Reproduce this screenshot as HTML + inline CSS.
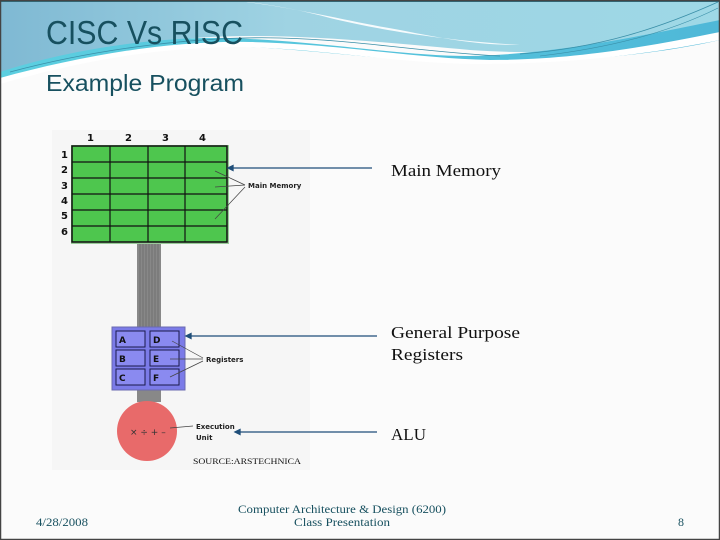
<!DOCTYPE html>
<html><head><meta charset="utf-8"><style>
html,body{margin:0;padding:0;background:#fff}
svg{display:block}
</style></head><body>
<svg width="720" height="540" viewBox="0 0 720 540" xmlns="http://www.w3.org/2000/svg">
<defs>
<linearGradient id="hg" x1="0" y1="0" x2="1" y2="0">
<stop offset="0" stop-color="#7fb9d3"/><stop offset="0.4" stop-color="#9fd3e3"/><stop offset="1" stop-color="#9ed8e6"/>
</linearGradient>
<linearGradient id="lg" x1="0" y1="0" x2="1" y2="0">
<stop offset="0" stop-color="#5ccfe0"/><stop offset="1" stop-color="#4fb8d8"/>
</linearGradient>
</defs>
<rect width="720" height="540" fill="#fbfbfb"/>
<path d="M0,0 H720 V30 C640,50 560,56 470,50 C380,42 250,28 160,42 C90,52 30,66 0,80 Z" fill="url(#hg)"/>
<path d="M0,72 C60,52 150,36 230,38 C330,42 400,56 470,56 C560,54 650,34 720,20 V40 C650,56 570,62 480,62 C380,62 300,47 220,46 C140,46 60,62 0,82 Z" fill="url(#lg)"/>
<path d="M230,0 C300,8 340,20 400,30 C450,40 480,45 520,45 C440,40 380,30 330,18 C300,10 270,4 230,0Z" fill="#fff" opacity="0.9"/>
<path d="M0,78 C80,56 170,40 250,42 C340,44 410,58 490,60 C580,60 660,44 720,32 V40 C650,54 570,64 480,64 C400,64 320,48 240,47 C150,47 70,64 0,84Z" fill="#fff"/>
<path d="M10,72 C100,48 200,36 280,38 C360,40 420,52 500,56" stroke="#3a8fa8" stroke-width="0.8" fill="none"/>
<path d="M520,54 C600,48 660,28 718,2" stroke="#3a8fa8" stroke-width="0.8" fill="none"/>
<path d="M540,56 C610,48 670,32 718,8" stroke="#3a8fa8" stroke-width="0.6" fill="none"/>
<line x1="0" y1="1" x2="720" y2="1" stroke="#2f6f80" stroke-width="2"/>
<text x="46" y="44" font-family="Liberation Sans, sans-serif" font-size="33" fill="#17505f" textLength="197" lengthAdjust="spacingAndGlyphs">CISC Vs RISC</text>
<text x="46" y="91" font-family="Liberation Sans, sans-serif" font-size="23" fill="#17505f" textLength="198" lengthAdjust="spacingAndGlyphs">Example Program</text>
<rect x="52" y="130" width="258" height="340" fill="#f6f6f6"/>
<g font-family="DejaVu Sans, sans-serif" font-weight="bold" font-size="10" fill="#111">
<text x="87" y="141">1</text><text x="125" y="141">2</text><text x="162" y="141">3</text><text x="199" y="141">4</text>
<text x="61" y="158">1</text><text x="61" y="173">2</text><text x="61" y="189">3</text><text x="61" y="204">4</text><text x="61" y="219">5</text><text x="61" y="235">6</text>
</g>
<rect x="137" y="243" width="24" height="85" fill="#888"/>
<g stroke="#666" stroke-width="0.7">
<line x1="140" y1="243" x2="140" y2="328"/><line x1="143" y1="243" x2="143" y2="328"/><line x1="146" y1="243" x2="146" y2="328"/><line x1="149" y1="243" x2="149" y2="328"/><line x1="152" y1="243" x2="152" y2="328"/><line x1="155" y1="243" x2="155" y2="328"/><line x1="158" y1="243" x2="158" y2="328"/>
</g>
<rect x="137" y="388" width="24" height="14" fill="#888"/>
<rect x="71" y="145" width="158" height="99" fill="#9c9" />
<rect x="72" y="146" width="155" height="96" fill="#4ec64e" stroke="#111" stroke-width="1.5"/>
<g stroke="#111" stroke-width="1.2">
<line x1="110" y1="146" x2="110" y2="242"/><line x1="148" y1="146" x2="148" y2="242"/><line x1="185" y1="146" x2="185" y2="242"/>
<line x1="72" y1="162" x2="227" y2="162"/><line x1="72" y1="178" x2="227" y2="178"/><line x1="72" y1="194" x2="227" y2="194"/><line x1="72" y1="210" x2="227" y2="210"/><line x1="72" y1="226" x2="227" y2="226"/>
</g>
<g stroke="#444" stroke-width="0.7">
<line x1="215" y1="171" x2="245" y2="185"/><line x1="215" y1="187" x2="245" y2="185"/><line x1="215" y1="219" x2="245" y2="187"/>
</g>
<text x="248" y="188" font-family="DejaVu Sans, sans-serif" font-weight="bold" font-size="7" fill="#222">Main Memory</text>
<rect x="112" y="327" width="73" height="63" fill="#7b7be8" stroke="#6a6ab0"/>
<g fill="#8a8af0" stroke="#1a1a4a" stroke-width="1">
<rect x="116" y="331" width="29" height="16"/><rect x="150" y="331" width="29" height="16"/>
<rect x="116" y="350" width="29" height="16"/><rect x="150" y="350" width="29" height="16"/>
<rect x="116" y="369" width="29" height="16"/><rect x="150" y="369" width="29" height="16"/>
</g>
<g font-family="DejaVu Sans, sans-serif" font-weight="bold" font-size="9" fill="#111">
<text x="119" y="343">A</text><text x="153" y="343">D</text><text x="119" y="362">B</text><text x="153" y="362">E</text><text x="119" y="381">C</text><text x="153" y="381">F</text>
</g>
<g stroke="#444" stroke-width="0.7">
<line x1="172" y1="341" x2="203" y2="358"/><line x1="170" y1="359" x2="203" y2="359"/><line x1="170" y1="377" x2="203" y2="361"/>
</g>
<text x="206" y="362" font-family="DejaVu Sans, sans-serif" font-weight="bold" font-size="7" fill="#222">Registers</text>
<circle cx="147" cy="431" r="30" fill="#e86a6a"/>
<text x="130" y="435" font-family="DejaVu Sans, sans-serif" font-size="9" fill="#333">× ÷ + –</text>
<line x1="170" y1="428" x2="193" y2="426" stroke="#444" stroke-width="0.7"/>
<text x="196" y="429" font-family="DejaVu Sans, sans-serif" font-weight="bold" font-size="7" fill="#222">Execution</text>
<text x="196" y="440" font-family="DejaVu Sans, sans-serif" font-weight="bold" font-size="7" fill="#222">Unit</text>
<text x="193" y="464" font-family="Liberation Serif, serif" font-size="8.5" fill="#111" textLength="108" lengthAdjust="spacingAndGlyphs">SOURCE:ARSTECHNICA</text>
<g stroke="#1f4e79" stroke-width="1.3" fill="#1f4e79">
<line x1="231" y1="168" x2="372" y2="168"/><polygon points="228,168 233,165.5 233,170.5"/>
<line x1="189" y1="336" x2="377" y2="336"/><polygon points="186,336 191,333.5 191,338.5"/>
<line x1="238" y1="432" x2="377" y2="432"/><polygon points="235,432 240,429.5 240,434.5"/>
</g>
<g font-family="Liberation Serif, serif" font-size="17" fill="#111">
<text x="391" y="176" textLength="110" lengthAdjust="spacingAndGlyphs">Main Memory</text>
<text x="391" y="338" textLength="129" lengthAdjust="spacingAndGlyphs">General Purpose</text>
<text x="391" y="360" textLength="72" lengthAdjust="spacingAndGlyphs">Registers</text>
<text x="391" y="440" textLength="35" lengthAdjust="spacingAndGlyphs">ALU</text>
</g>
<g font-family="Liberation Serif, serif" font-size="12" fill="#17505f">
<text x="36" y="526" textLength="52" lengthAdjust="spacingAndGlyphs">4/28/2008</text>
<text x="238" y="513" textLength="208" lengthAdjust="spacingAndGlyphs">Computer Architecture &amp; Design (6200)</text>
<text x="294" y="526" textLength="96" lengthAdjust="spacingAndGlyphs">Class Presentation</text>
<text x="678" y="526">8</text>
</g>
<rect x="0.5" y="0.5" width="719" height="539" fill="none" stroke="#444" stroke-width="1.5"/>
</svg>
</body></html>
